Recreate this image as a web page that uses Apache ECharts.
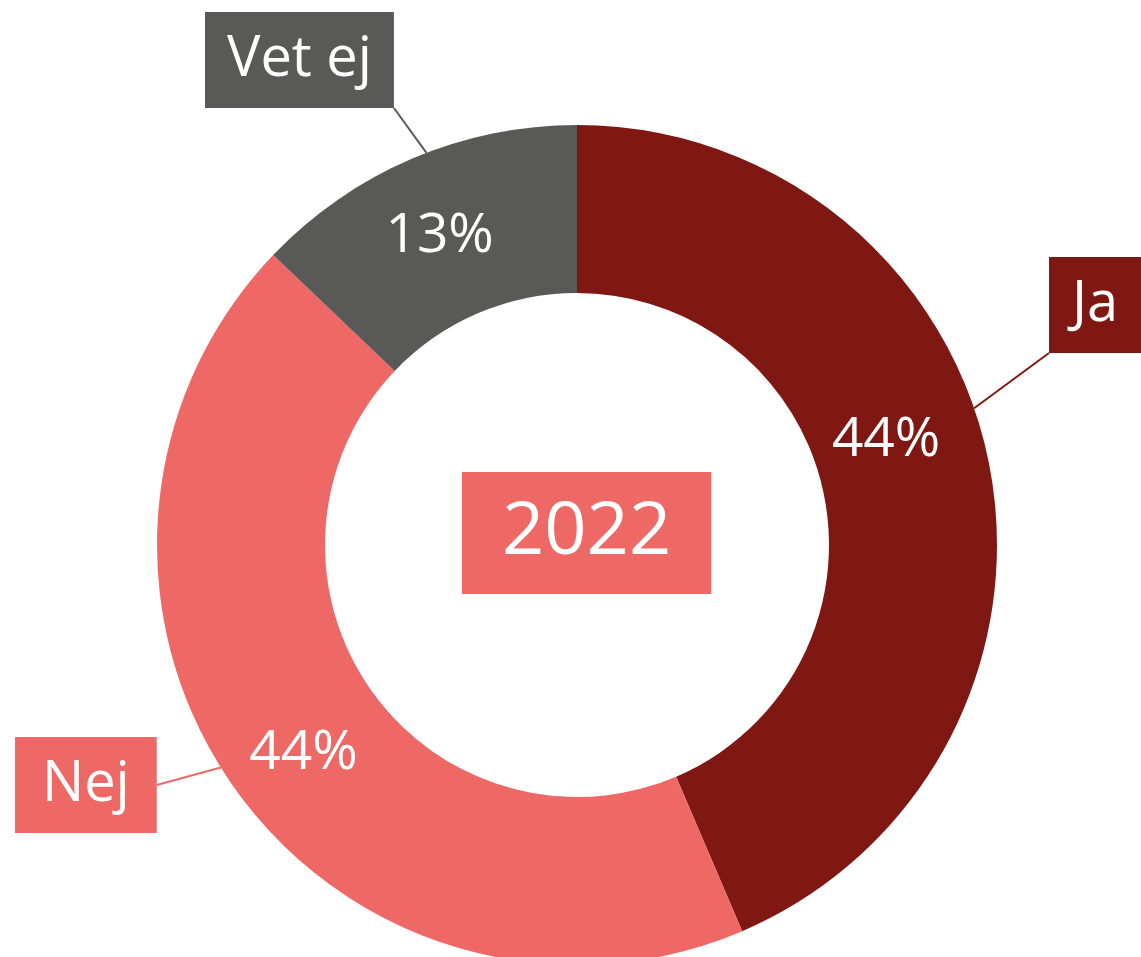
<!DOCTYPE html>
<html>
<head>
<meta charset="utf-8">
<script src="https://cdn.jsdelivr.net/npm/echarts@6/dist/echarts.min.js"></script>
<style>
  html, body { margin: 0; padding: 0; background: #ffffff; }
  #chart { width: 1141px; height: 957px; }
</style>
</head>
<body>
<div id="chart"></div>
<script>
// Survey answers, share of respondents (%)
const categories = ['Ja', 'Nej', 'Vet ej'];
const shares = [44, 44, 13];
const yearLabel = '2022';

const colors = ['#7F1812', '#EE6865', '#595957'];

// Ring geometry in px
const CX = 577, CY = 545, R_IN = 252, R_OUT = 420;

// Category tags: top-left of each box, horizontal padding, where on the box
// the leader line ends (fraction of width/height), and the angle on the ring
// where it starts (degrees clockwise from 12 o'clock).
const tagLayout = [
  { x: 1049, y: 257, pad: 23, ax: 0, ay: 1, angle: 71 },
  { x: 15, y: 737, pad: 27, ax: 1, ay: 0.5, angle: 238 },
  { x: 205, y: 12, pad: 22, ax: 1, ay: 1, angle: 339 }
];

// Nudges for the percentage labels inside the ring
const pctShift = [[-23, -37], [5, 15], [-4, 3]];

const FONT = 'Open Sans';

const chart = echarts.init(document.getElementById('chart'), null, { renderer: 'canvas' });

const ringData = categories.map((name, i) => ({
  name: name,
  value: shares[i],
  itemStyle: { color: colors[i] }
}));

const tagData = categories.map((name, i) => ({
  name: name,
  value: shares[i],
  itemStyle: { color: 'transparent' },
  label: { backgroundColor: colors[i], padding: [0, tagLayout[i].pad] },
  labelLine: { lineStyle: { color: colors[i] } }
}));

chart.setOption({
  animation: false,
  backgroundColor: '#ffffff',
  title: {
    text: yearLabel,
    left: 462,
    top: 472,
    padding: [0, 40],
    backgroundColor: colors[1],
    textStyle: {
      color: '#ffffff',
      fontSize: 74,
      fontFamily: FONT,
      fontWeight: 'normal',
      lineHeight: 122
    }
  },
  series: [
    {
      type: 'pie',
      center: [CX, CY],
      radius: [R_IN, R_OUT],
      startAngle: 90,
      clockwise: true,
      silent: true,
      itemStyle: { borderWidth: 0 },
      emphasis: { disabled: true },
      data: ringData,
      label: {
        show: true,
        position: 'inside',
        formatter: p => p.value + '%',
        color: '#ffffff',
        fontSize: 55,
        fontFamily: FONT
      },
      labelLine: { show: false },
      labelLayout: p => ({ dx: pctShift[p.dataIndex][0], dy: pctShift[p.dataIndex][1] })
    },
    {
      type: 'pie',
      center: [CX, CY],
      radius: [R_IN, R_OUT],
      startAngle: 90,
      clockwise: true,
      silent: true,
      avoidLabelOverlap: false,
      itemStyle: { borderWidth: 0 },
      emphasis: { disabled: true },
      data: tagData,
      label: {
        show: true,
        position: 'outside',
        formatter: '{b}',
        color: '#ffffff',
        fontSize: 56,
        fontFamily: FONT,
        lineHeight: 96,
        padding: [0, 22]
      },
      labelLine: { show: true, length: 10, length2: 10, lineStyle: { width: 2 } },
      labelLayout: p => {
        const t = tagLayout[p.dataIndex];
        const w = p.labelRect.width, h = p.labelRect.height;
        const a = t.angle * Math.PI / 180;
        return {
          x: t.x,
          y: t.y,
          align: 'left',
          verticalAlign: 'top',
          labelLinePoints: [
            [CX + R_OUT * Math.sin(a), CY - R_OUT * Math.cos(a)],
            [t.x + t.ax * w, t.y + t.ay * h]
          ]
        };
      }
    }
  ]
});
</script>
</body>
</html>
